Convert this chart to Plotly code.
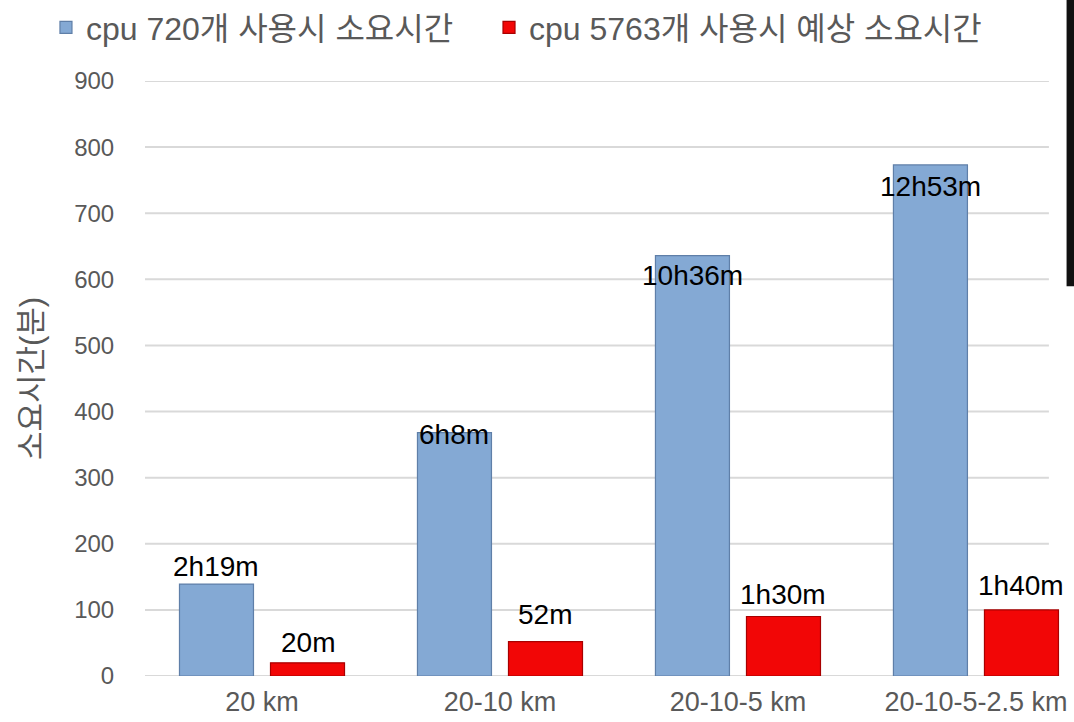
import plotly.graph_objects as go

# Grid resolutions compared
categories = ["20 km", "20-10 km", "20-10-5 km", "20-10-5-2.5 km"]

# Elapsed time in minutes
cpu720_minutes = [139, 368, 636, 773]
cpu5763_minutes = [20, 52, 90, 100]

# Human-readable duration labels
cpu720_labels = ["2h19m", "6h8m", "10h36m", "12h53m"]
cpu5763_labels = ["20m", "52m", "1h30m", "1h40m"]

series_names = ["cpu 720개 사용시 소요시간", "cpu 5763개 사용시 예상 소요시간"]

y_ticks = [0, 100, 200, 300, 400, 500, 600, 700, 800, 900]

# label vertical offsets (px) relative to each bar's top
blue_label_shift = [18, -2, -20, -22]
red_label_shift = [20, 27, 22, 24]

FONT = "Liberation Sans, Arial, Noto Sans CJK KR, sans-serif"
GREY_TEXT = "#595959"
BAR_GAP = 0.235
GROUP_GAP = 0.187

xpos = list(range(len(categories)))
slot = (1 - BAR_GAP) / 2

fig = go.Figure()
fig.add_trace(go.Bar(
    x=xpos, y=cpu720_minutes, name=series_names[0], legend="legend",
    marker=dict(color="#84A9D4", line=dict(color="#5F7FA8", width=1.2)),
))
fig.add_trace(go.Bar(
    x=xpos, y=cpu5763_minutes, name=series_names[1], legend="legend2",
    marker=dict(color="#F20606", line=dict(color="#A80000", width=1.2)),
))

# horizontal gridlines
for t in y_ticks:
    fig.add_shape(type="line", xref="x domain", yref="y", x0=0, x1=0.973,
                  y0=t, y1=t, line=dict(color="#D9D9D9", width=2), layer="below")

# value labels
for i in xpos:
    fig.add_annotation(x=i - slot / 2, y=cpu720_minutes[i], text=cpu720_labels[i],
                       showarrow=False, yanchor="middle", yshift=blue_label_shift[i],
                       font=dict(family=FONT, size=28, color="black"))
    fig.add_annotation(x=i + slot / 2, y=cpu5763_minutes[i], text=cpu5763_labels[i],
                       showarrow=False, yanchor="middle", yshift=red_label_shift[i],
                       font=dict(family=FONT, size=28, color="black"))

# dark frame edge at the right border
fig.add_shape(type="rect", xref="paper", yref="paper", x0=0.992, x1=1.0,
              y0=0.655, y1=1.14, fillcolor="#111111", line=dict(width=0), layer="above")

legend_style = dict(orientation="h", xanchor="left", y=1.09, yanchor="middle",
                    font=dict(family=FONT, size=32, color=GREY_TEXT),
                    bgcolor="rgba(0,0,0,0)")

fig.update_layout(
    width=1074, height=722,
    margin=dict(l=145, r=0, t=79, b=46),
    paper_bgcolor="white", plot_bgcolor="white",
    barmode="group", bargap=BAR_GAP, bargroupgap=GROUP_GAP,
    font=dict(family=FONT, color=GREY_TEXT, size=22),
    showlegend=True,
    legend=dict(x=-0.1066, **legend_style),
    legend2=dict(x=0.3703, **legend_style),
    xaxis=dict(tickmode="array", tickvals=xpos, ticktext=categories,
               range=[-0.4916, 3.412], showgrid=False, zeroline=False,
               showline=False, ticks="outside", ticklen=2, tickcolor="rgba(0,0,0,0)",
               tickfont=dict(size=27, color=GREY_TEXT)),
    yaxis=dict(range=[0, 900], tickvals=y_ticks, showgrid=False, zeroline=False,
               showline=False, ticks="outside", ticklen=25, tickcolor="rgba(0,0,0,0)",
               tickfont=dict(size=24, color=GREY_TEXT),
               title=dict(text="소요시간(분)", standoff=22,
                          font=dict(size=31, color=GREY_TEXT))),
)

fig.write_html("out.html")
